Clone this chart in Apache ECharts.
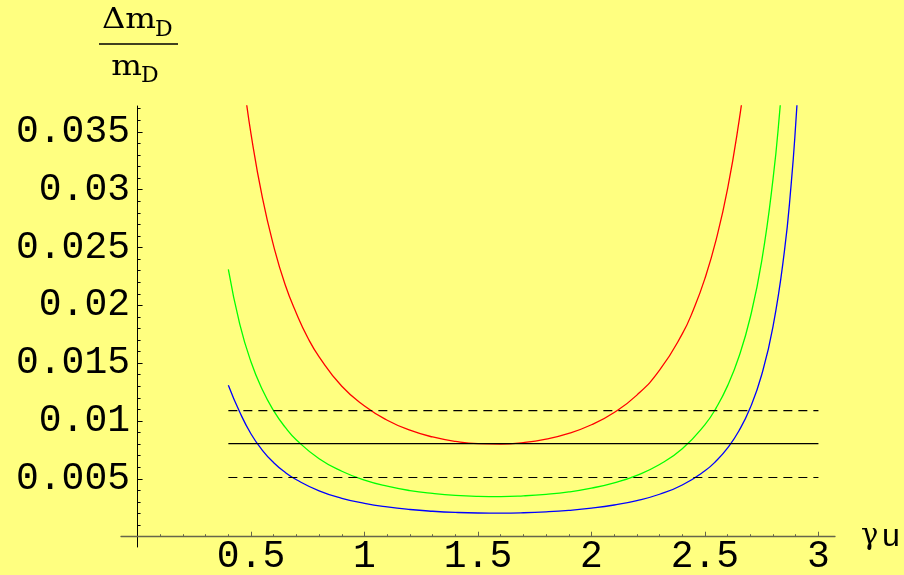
<!DOCTYPE html>
<html>
<head>
<meta charset="utf-8">
<script src="https://cdn.jsdelivr.net/npm/echarts@6/dist/echarts.min.js"></script>
<style>
  html, body { margin: 0; padding: 0; background: #ffff80; }
  #chart { width: 904px; height: 575px; }
</style>
</head>
<body>
<div id="chart"></div>
<script>
// tick positions
const xTicks = [0.5, 1, 1.5, 2, 2.5, 3];
const xMinorTicks = [0.1, 0.2, 0.3, 0.4, 0.6, 0.7, 0.8, 0.9, 1.1, 1.2, 1.3, 1.4, 1.6, 1.7, 1.8, 1.9,
  2.1, 2.2, 2.3, 2.4, 2.6, 2.7, 2.8, 2.9];
const yTicks = [0.005, 0.01, 0.015, 0.02, 0.025, 0.03, 0.035];
const yMinorTicks = [0.001, 0.002, 0.003, 0.004, 0.006, 0.007, 0.008, 0.009, 0.011, 0.012, 0.013, 0.014,
  0.016, 0.017, 0.018, 0.019, 0.021, 0.022, 0.023, 0.024, 0.026, 0.027, 0.028, 0.029,
  0.031, 0.032, 0.033, 0.034, 0.036, 0.037];

// curves: [gamma_u, dm/m]
const redCurve = [[0.47, 0.0390], [0.5, 0.0348], [0.55, 0.0293], [0.6, 0.0251], [0.65, 0.0218],
  [0.7, 0.0193], [0.75, 0.0172], [0.8, 0.01555], [0.9, 0.0130], [1.0, 0.0113], [1.1, 0.01007],
  [1.2, 0.00921], [1.3, 0.00862], [1.4, 0.00824], [1.5, 0.00804], [1.6, 0.00801], [1.7, 0.00814],
  [1.8, 0.00844], [1.9, 0.00893], [2.0, 0.00968], [2.1, 0.01074], [2.2, 0.01224], [2.3, 0.01439],
  [2.4, 0.01753], [2.45, 0.01967], [2.5, 0.02233], [2.55, 0.02572], [2.6, 0.0301], [2.65, 0.0359],
  [2.68, 0.0403]];
const greenCurve = [[0.4, 0.0231], [0.45, 0.0184], [0.5, 0.0151], [0.55, 0.0127], [0.6, 0.01088],
  [0.65, 0.00947], [0.7, 0.00836], [0.8, 0.00674], [0.9, 0.00566], [1.0, 0.0049], [1.1, 0.00437],
  [1.2, 0.00399], [1.3, 0.00374], [1.4, 0.00357], [1.5, 0.00349], [1.6, 0.00347], [1.7, 0.00353],
  [1.8, 0.00366], [1.9, 0.00387], [2.0, 0.0042], [2.1, 0.00466], [2.2, 0.00531], [2.3, 0.00624],
  [2.4, 0.0076], [2.5, 0.00969], [2.55, 0.01116], [2.6, 0.01306], [2.65, 0.01557], [2.7, 0.01899],
  [2.75, 0.02382], [2.8, 0.03093], [2.83, 0.0369], [2.85, 0.042]];
const blueCurve = [[0.4, 0.0131], [0.45, 0.01078], [0.5, 0.00888], [0.55, 0.00747], [0.6, 0.0064],
  [0.65, 0.00557], [0.7, 0.00492], [0.8, 0.00396], [0.9, 0.00332], [1.0, 0.00288], [1.1, 0.00257],
  [1.2, 0.00235], [1.3, 0.0022], [1.4, 0.0021], [1.5, 0.00205], [1.6, 0.00204], [1.7, 0.00207],
  [1.8, 0.00215], [1.9, 0.00228], [2.0, 0.00247], [2.1, 0.00274], [2.2, 0.00312], [2.3, 0.00367],
  [2.4, 0.00447], [2.5, 0.0057], [2.55, 0.00656], [2.6, 0.00768], [2.65, 0.00916], [2.7, 0.01117],
  [2.75, 0.014], [2.8, 0.01818], [2.85, 0.02467], [2.88, 0.0305], [2.9, 0.0357], [2.92, 0.0422]];

// horizontal reference band
const bandX = [0.4, 3];
const bandCentral = 0.00805;
const bandUpper = 0.0109;
const bandLower = 0.00512;

const X_MIN = -0.073, X_MAX = 3.073;
const Y_MIN = -0.00089, Y_MAX = 0.03723;
const tickFont = 'Liberation Mono';
const axisGrey = '#66664a';

const chart = echarts.init(document.getElementById('chart'));

function flat(y) { return bandX.map(x => [x, y]); }
function curve(data, color) {
  return { type: 'line', data: data, symbol: 'none', smooth: true, clip: true,
    lineStyle: { color: color, width: 1.3 }, silent: true };
}
function hline(y, dashed) {
  return { type: 'line', data: flat(y), symbol: 'none', silent: true,
    lineStyle: { color: '#000', width: 1.1, type: dashed ? [9, 6] : 'solid' } };
}

chart.setOption({
  backgroundColor: '#ffff80',
  animation: false,
  grid: { left: 121, right: 69, top: 106, bottom: 28, outerBoundsMode: 'none' },
  xAxis: [{
    type: 'value', min: X_MIN, max: X_MAX, position: 'bottom',
    axisLine: { show: true, onZero: true, lineStyle: { color: axisGrey, width: 1.3 } },
    axisTick: { show: true, inside: true, length: 5, customValues: xTicks, lineStyle: { color: axisGrey } },
    axisLabel: { customValues: xTicks, formatter: v => String(v), fontFamily: tickFont, fontSize: 38,
      color: '#000', margin: -9 },
    splitLine: { show: false },
    name: '{g|γ}{u|u}', nameLocation: 'end', nameGap: 26,
    nameTextStyle: { rich: {
      g: { fontFamily: 'DejaVu Serif', fontSize: 29, color: '#000' },
      u: { fontFamily: tickFont, fontSize: 32, color: '#000', padding: [2, 0, 0, 3] }
    } }
  }, {
    type: 'value', min: X_MIN, max: X_MAX, position: 'bottom',
    axisLine: { show: false, onZero: true, onZeroAxisIndex: 0 },
    axisTick: { show: true, inside: true, length: 2.5, customValues: xMinorTicks, lineStyle: { color: axisGrey } },
    axisLabel: { show: false }, splitLine: { show: false }
  }],
  yAxis: [{
    type: 'value', min: Y_MIN, max: Y_MAX, position: 'left',
    axisLine: { show: true, onZero: true, lineStyle: { color: '#000', width: 1 } },
    axisTick: { show: true, inside: true, length: 5, customValues: yTicks, lineStyle: { color: '#000' } },
    axisLabel: { customValues: yTicks, formatter: v => String(v), fontFamily: tickFont, fontSize: 38,
      color: '#000', margin: -9 },
    splitLine: { show: false }
  }, {
    type: 'value', min: Y_MIN, max: Y_MAX, position: 'left',
    axisLine: { show: false, onZero: true, onZeroAxisIndex: 0 },
    axisTick: { show: true, inside: true, length: 3, customValues: yMinorTicks, lineStyle: { color: '#000' } },
    axisLabel: { show: false }, splitLine: { show: false }
  }],
  graphic: [
    { type: 'text', x: 156, y: 21, scaleX: 1.2, style: { text: 'Δm', fontFamily: 'DejaVu Serif', fontSize: 27,
      fill: '#000', align: 'right', verticalAlign: 'middle' } },
    { type: 'text', x: 155, y: 30, scaleX: 1.0, style: { text: 'D', fontFamily: 'DejaVu Serif', fontSize: 22,
      fill: '#000', align: 'left', verticalAlign: 'middle' } },
    { type: 'line', shape: { x1: 99, y1: 44, x2: 178, y2: 44 }, style: { stroke: '#000', lineWidth: 1.5 } },
    { type: 'text', x: 142, y: 68, scaleX: 1.2, style: { text: 'm', fontFamily: 'DejaVu Serif', fontSize: 27,
      fill: '#000', align: 'right', verticalAlign: 'middle' } },
    { type: 'text', x: 141, y: 76, scaleX: 1.0, style: { text: 'D', fontFamily: 'DejaVu Serif', fontSize: 22,
      fill: '#000', align: 'left', verticalAlign: 'middle' } }
  ],
  series: [
    curve(redCurve, '#ff0000'),
    curve(greenCurve, '#00ff00'),
    curve(blueCurve, '#0000ff'),
    hline(bandUpper, true),
    hline(bandCentral, false),
    hline(bandLower, true)
  ]
});
</script>
</body>
</html>
